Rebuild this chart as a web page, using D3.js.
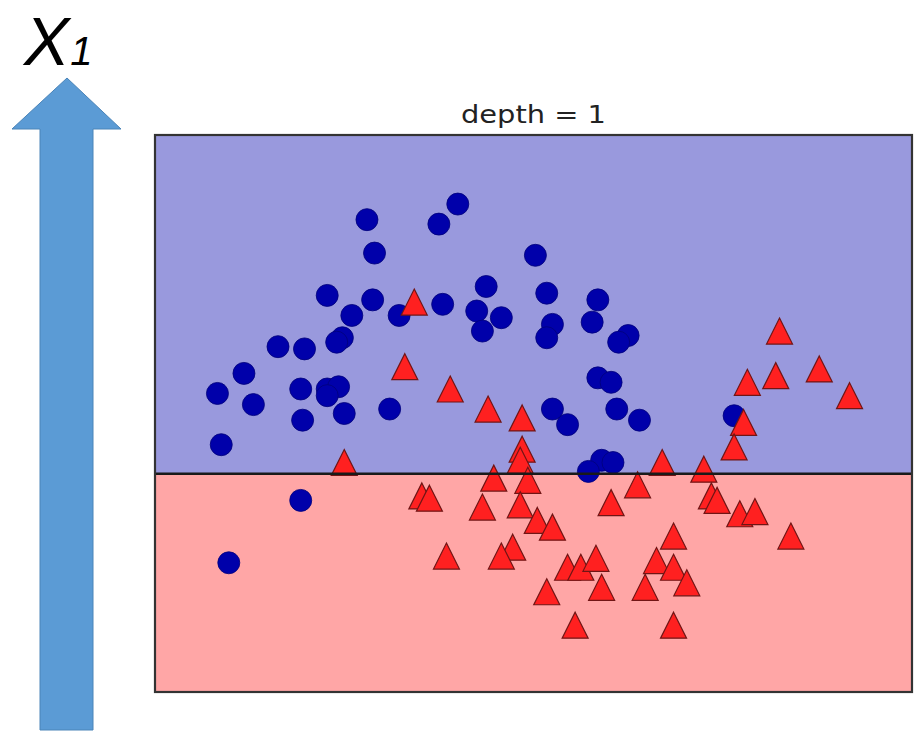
<!DOCTYPE html>
<html>
<head>
<meta charset="utf-8">
<script src="https://cdn.jsdelivr.net/npm/d3@7"></script>
<style>
  body { margin: 0; background: #fff; }
  svg { display: block; }
</style>
</head>
<body>
<div id="chart"></div>
<script>
'use strict';

// class 0 (circles)
var blue_x = [-0.38, -0.34, -0.59, -0.35, -0.46, -0.21, -0.51, -0.54, -0.85, -0.71,
              -1.03, -1.17, -0.98, -0.73, -0.59, -0.53, -0.59, -0.50, -0.72, -0.26,
              -1.15, 0.10, 0.00, 0.51, 0.25, 0.57, 0.84, 0.02, 0.20, 0.33,
              0.23, 0.60, 0.57, 0.81, 1.00, 0.95, 0.84, 0.91, 0.60, 0.68,
              0.94, 1.06, 0.86, 0.92, 0.79, 1.56, -0.73, -1.11];
var blue_y = [1.12, 0.97, 0.78, 0.76, 0.69, 0.69, 0.59, 0.57, 0.55, 0.54,
              0.43, 0.34, 0.29, 0.36, 0.36, 0.37, 0.33, 0.25, 0.22, 0.27,
              0.11, 1.19, 1.10, 0.96, 0.82, 0.79, 0.76, 0.74, 0.71, 0.68,
              0.62, 0.65, 0.59, 0.66, 0.60, 0.57, 0.41, 0.39, 0.27, 0.20,
              0.27, 0.22, 0.04, 0.03, -0.01, 0.24, -0.14, -0.42];

// class 1 (triangles)
var red_x = [-0.13, -0.18, 0.06, 0.26, 0.44, 0.44, 0.43, -0.50, 0.29, 0.47,
             -0.09, -0.05, 0.23, 0.43, 0.04, 0.39, 0.33, 1.80, 1.63, 1.78,
             2.01, 2.17, 1.61, 1.56, 1.18, 1.40, 1.05, 1.44, 1.47, 0.91,
             1.59, 1.67, 0.52, 0.60, 1.24, 1.86, 0.68, 0.75, 0.83, 1.15,
             1.24, 1.31, 0.57, 0.86, 1.09, 0.72, 1.24];
var red_y = [0.75, 0.46, 0.36, 0.27, 0.23, 0.09, 0.04, 0.03, -0.04, -0.05,
             -0.12, -0.13, -0.17, -0.16, -0.39, -0.35, -0.39, 0.62, 0.39, 0.42,
             0.45, 0.33, 0.21, 0.10, 0.03, 0.00, -0.07, -0.12, -0.14, -0.15,
             -0.20, -0.19, -0.23, -0.26, -0.30, -0.30, -0.44, -0.44, -0.40, -0.41,
             -0.44, -0.51, -0.55, -0.53, -0.53, -0.70, -0.70];

var x_domain = [-1.5, 2.5];
var y_domain = [-1.0, 1.5];
var split_y = -0.02;   // tree threshold on X1
var title = 'depth = 1';

var W = 922, H = 735;
var plot = { left: 155, right: 912, top: 135, bottom: 692 };

var svg = d3.select('#chart').append('svg')
    .attr('width', W)
    .attr('height', H);

var x = d3.scaleLinear().domain(x_domain).range([plot.left, plot.right]);
var y = d3.scaleLinear().domain(y_domain).range([plot.bottom, plot.top]);

// big arrow on the left
var arrow = [[40, 730], [40, 129], [12, 129], [67, 78], [121, 129], [93, 129], [93, 730]];
svg.append('polygon')
    .attr('points', arrow.map(function(p) { return p.join(','); }).join(' '))
    .attr('fill', '#5b9bd5')
    .attr('stroke', '#4a84b8')
    .attr('stroke-width', 1);

var lbl = svg.append('text')
    .attr('x', 24)
    .attr('y', 65)
    .attr('font-family', '"Liberation Sans", Arial, sans-serif')
    .attr('font-style', 'italic')
    .attr('fill', '#000');
lbl.append('tspan').attr('font-size', 68).text('X');
lbl.append('tspan').attr('font-size', 40).attr('dx', 1).text('1');

// decision regions
svg.append('rect')
    .attr('x', x(x_domain[0])).attr('y', y(y_domain[1]))
    .attr('width', x(x_domain[1]) - x(x_domain[0]))
    .attr('height', y(split_y) - y(y_domain[1]))
    .attr('fill', '#9999dd');
svg.append('rect')
    .attr('x', x(x_domain[0])).attr('y', y(split_y))
    .attr('width', x(x_domain[1]) - x(x_domain[0]))
    .attr('height', y(y_domain[0]) - y(split_y))
    .attr('fill', '#ffa6a6');

// circles
var g = svg.append('g');
g.selectAll('circle')
    .data(d3.range(blue_x.length))
    .enter().append('circle')
    .attr('cx', function(i) { return x(blue_x[i]); })
    .attr('cy', function(i) { return y(blue_y[i]); })
    .attr('r', 11)
    .attr('fill', '#0000aa')
    .attr('stroke', '#00007a')
    .attr('stroke-width', 0.8);

// triangles
var tri = 13;
g.selectAll('path.tri')
    .data(d3.range(red_x.length))
    .enter().append('path')
    .attr('class', 'tri')
    .attr('d', 'M0,' + (-tri) + 'L' + tri + ',' + tri + 'L' + (-tri) + ',' + tri + 'Z')
    .attr('transform', function(i) { return 'translate(' + x(red_x[i]) + ',' + y(red_y[i]) + ')'; })
    .attr('fill', '#ff2020')
    .attr('stroke', '#701515')
    .attr('stroke-width', 1.2)
    .attr('stroke-linejoin', 'miter');

// split line
svg.append('line')
    .attr('x1', x(x_domain[0])).attr('x2', x(x_domain[1]))
    .attr('y1', y(split_y)).attr('y2', y(split_y))
    .attr('stroke', '#1a1a1a')
    .attr('stroke-width', 2.5);

// frame
svg.append('rect')
    .attr('x', x(x_domain[0])).attr('y', y(y_domain[1]))
    .attr('width', x(x_domain[1]) - x(x_domain[0]))
    .attr('height', y(y_domain[0]) - y(y_domain[1]))
    .attr('fill', 'none')
    .attr('stroke', '#333')
    .attr('stroke-width', 2.2);

svg.append('text')
    .attr('x', (plot.left + plot.right) / 2)
    .attr('y', 123)
    .attr('text-anchor', 'middle')
    .attr('font-family', '"DejaVu Sans", sans-serif')
    .attr('font-size', 24)
    .attr('fill', '#222')
    .attr('textLength', 145)
    .attr('lengthAdjust', 'spacingAndGlyphs')
    .text(title);
</script>
</body>
</html>
